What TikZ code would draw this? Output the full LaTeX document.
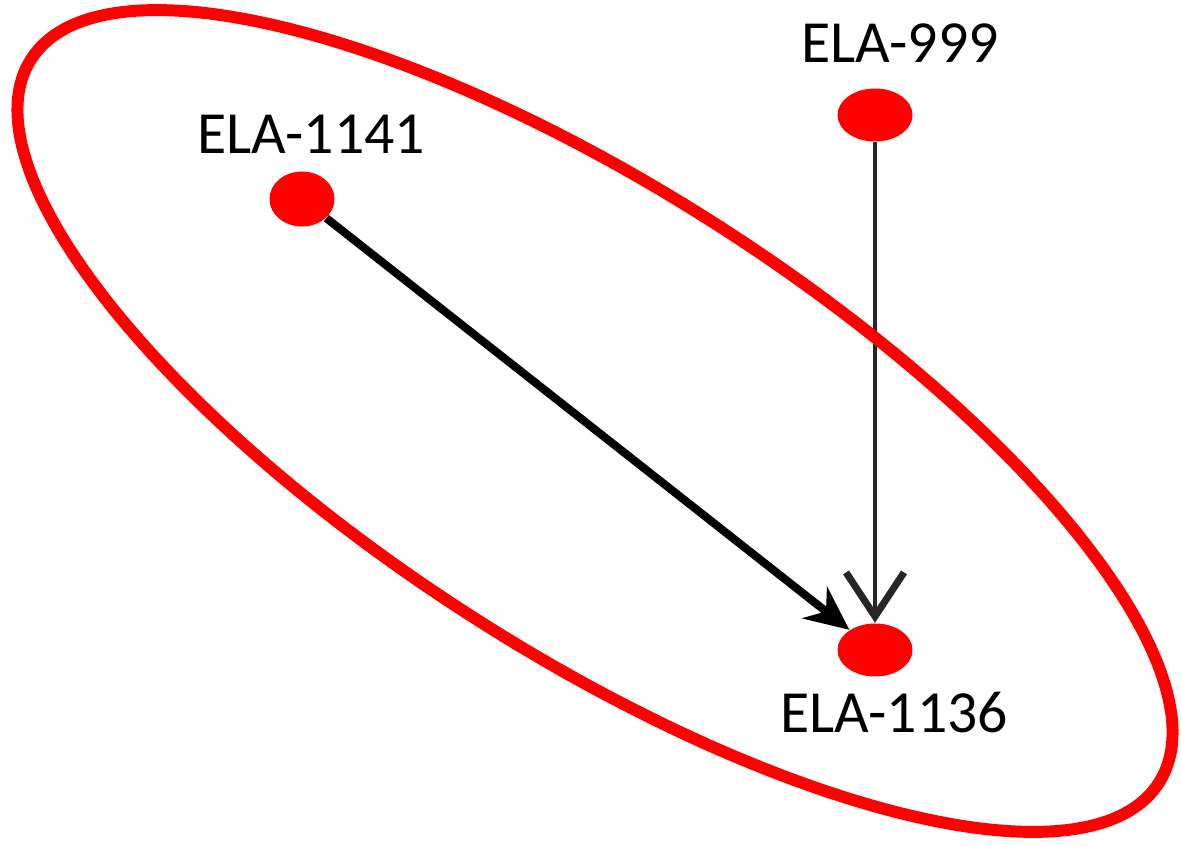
\documentclass[tikz,border=0pt]{standalone}
\usepackage{fontspec}
\setmainfont{Carlito}
\usetikzlibrary{shapes.geometric,arrows.meta}

\begin{document}
\begin{tikzpicture}[
    dot/.style={ellipse,fill=red,inner sep=0pt,minimum width=7.5mm,minimum height=5.3mm},
    lbl/.style={anchor=base,inner sep=0pt,font=\fontsize{17}{19}\selectfont}]
    % Khung hình
    \fill[white] (0,0) rectangle (11.81,-8.46);
    \useasboundingbox (0,0) rectangle (11.81,-8.46);
    
    % Vẽ các đỉnh
    \node[dot,minimum width=6.5mm,minimum height=5.5mm] (n1141) at (3.02,-1.99) {};
    \node[dot] (n999) at (8.75,-1.15) {};
    \node[dot] (n1136) at (8.75,-6.50) {};
    
    % Ghi tên các đỉnh
    \node[lbl] (t1141) at (3.11,-1.54) {ELA-1141};
    \node[lbl] (t999) at (9.00,-0.63) {ELA-999};
    \node[lbl] (t1136) at (8.94,-7.32) {ELA-1136};
    
    % Vẽ các cạnh
    \draw[-{Stealth[length=4.4mm,width=4mm]},line width=2.3pt] (n1141) -- (n1136);
    \draw[-{Straight Barb[length=4.4mm,width=5.8mm,line width=2pt]},line width=1.1pt,black!85] (n999) -- (n1136);
    
    % Vẽ đường elip bao quanh
    \draw[red,line width=3.4pt,rotate around={-32.7:(5.95,-4.21)}] (5.95,-4.21) ellipse (6.70 and 2.31);
\end{tikzpicture}
\end{document}
